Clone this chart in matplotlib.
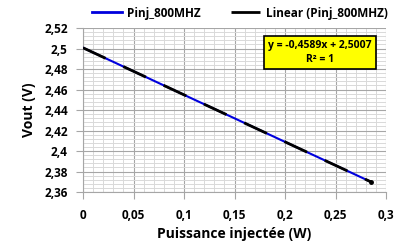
import matplotlib
matplotlib.use("Agg")
from matplotlib import pyplot as plt
from matplotlib.ticker import MultipleLocator, FuncFormatter

# Mesures : puissance injectee (W) et tension de sortie (V)
pinj = [0.0, 0.05, 0.10, 0.15, 0.20, 0.25, 0.285]
vout = [2.5007, 2.4778, 2.4548, 2.4319, 2.4089, 2.3860, 2.3699]

# Courbe de tendance affichee par Excel
trend_slope = -0.4589
trend_offset = 2.5007
trend_text = "y = -0,4589x + 2,5007\nR² = 1"


def comma(v, pos):
    return f"{v:g}".replace(".", ",")


def main():
    plt.rcParams['font.family'] = ['Open Sans', 'DejaVu Sans']
    fig = plt.figure(figsize=(4.0, 2.47), dpi=100)
    ax = fig.add_axes([83 / 400, 1 - 192 / 247, 303 / 400, 164 / 247])

    trend = [trend_slope * x + trend_offset for x in pinj]
    ax.plot(pinj, vout, color='#0000dd', lw=1.5, label='Pinj_800MHZ', zorder=3)
    ax.plot(pinj, trend, color='black', lw=2.0, dashes=(9, 7),
            solid_capstyle='butt', label='Linear (Pinj_800MHZ)', zorder=4)
    ax.plot(pinj[-1], vout[-1], 'o', color='black', ms=2.5, zorder=5)

    ax.set_xlim(0, 0.3)
    ax.set_ylim(2.36, 2.52)
    ax.xaxis.set_major_locator(MultipleLocator(0.05))
    ax.xaxis.set_minor_locator(MultipleLocator(0.01))
    ax.yaxis.set_major_locator(MultipleLocator(0.02))
    ax.yaxis.set_minor_locator(MultipleLocator(0.004))
    ax.xaxis.set_major_formatter(FuncFormatter(comma))
    ax.yaxis.set_major_formatter(FuncFormatter(comma))

    ax.grid(True, which='major', color='#a6a6a6', lw=0.8)
    ax.grid(True, which='minor', color='#d9d9d9', lw=0.7)
    ax.set_axisbelow(True)
    for side in ['top', 'right']:
        ax.spines[side].set_visible(False)
    for side in ['left', 'bottom']:
        ax.spines[side].set_color('#a6a6a6')
    ax.tick_params(which='major', length=5, color='#a6a6a6', labelsize=8.5, pad=6)
    ax.tick_params(which='minor', length=0)
    for lab in ax.get_xticklabels() + ax.get_yticklabels():
        lab.set_fontweight('bold')
    ax.tick_params(axis='x', pad=7)

    ax.set_xlabel('Puissance injectée (W)', fontsize=10, fontweight='bold', labelpad=4)
    ax.set_ylabel('Vout (V)', fontsize=10, fontweight='bold', labelpad=6)

    leg = fig.legend(loc='center', bbox_to_anchor=(0.6, 1 - 13 / 247), ncol=2,
                     frameon=False, fontsize=8.5, handlelength=2.5,
                     columnspacing=2.5, handletextpad=0.5)
    for t in leg.get_texts():
        t.set_fontweight('bold')
    for h in leg.legend_handles:
        if h.get_color() == 'black':
            h.set_dashes([])
        h.set_linewidth(2)

    ax.text(0.2345, 2.4958, trend_text, ha='center', va='center', fontsize=7.5,
            fontweight='bold', linespacing=1.35,
            bbox=dict(boxstyle='square,pad=0.4', fc='#ffff00', ec='black', lw=1.2))

    fig.savefig('out.png', dpi=100)


if __name__ == '__main__':
    main()
